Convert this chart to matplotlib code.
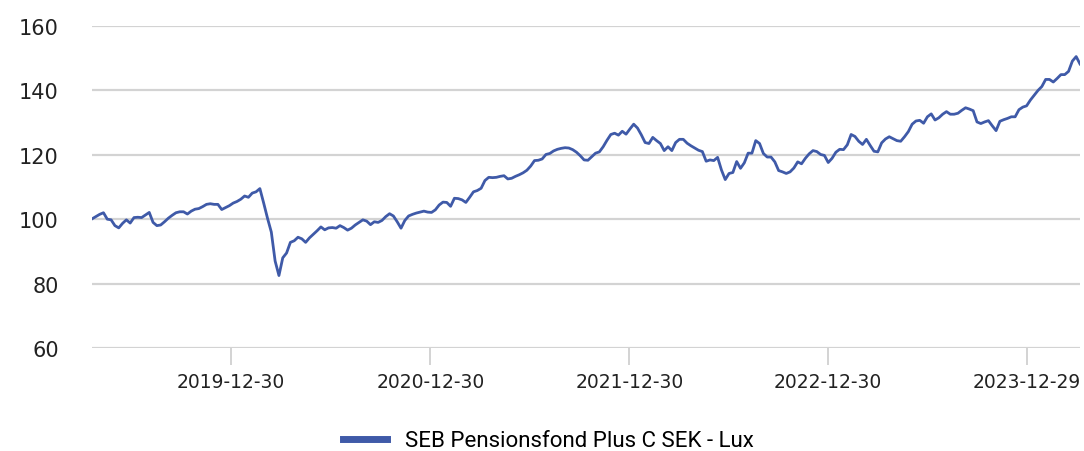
import pandas as pd
import matplotlib
matplotlib.use("Agg")
import matplotlib.pyplot as plt
import matplotlib.dates as mdates

# weekly NAV readings (indexed to 100)
start_date = "2019-04-19"
fund_name = "SEB Pensionsfond Plus C SEK - Lux"
values = [
    100.1, 100.8, 101.5, 102.0, 100.0, 99.8, 98.0, 97.3, 98.7, 99.8,
    98.8, 100.5, 100.6, 100.5, 101.3, 102.1, 99.0, 98.0, 98.2, 99.2,
    100.3, 101.2, 102.0, 102.3, 102.3, 101.6, 102.5, 103.1, 103.3, 103.9,
    104.6, 104.8, 104.6, 104.6, 103.0, 103.6, 104.2, 105.0, 105.5, 106.2,
    107.2, 106.8, 108.1, 108.5, 109.5, 105.0, 100.3, 96.0, 87.0, 82.5,
    88.0, 89.5, 92.8, 93.3, 94.4, 93.9, 92.8, 94.2, 95.3, 96.4,
    97.6, 96.7, 97.3, 97.4, 97.2, 98.0, 97.4, 96.6, 97.2, 98.2,
    99.0, 99.8, 99.4, 98.3, 99.2, 99.0, 99.6, 100.8, 101.7, 101.0,
    99.2, 97.2, 99.6, 101.0, 101.5, 101.9, 102.2, 102.5, 102.2, 102.1,
    102.9, 104.4, 105.3, 105.2, 104.0, 106.5, 106.4, 106.0, 105.2, 106.8,
    108.5, 108.9, 109.6, 112.0, 113.0, 112.9, 113.0, 113.3, 113.5, 112.5,
    112.7, 113.3, 113.8, 114.4, 115.2, 116.5, 118.2, 118.3, 118.7, 120.1,
    120.4, 121.2, 121.7, 122.0, 122.2, 122.1, 121.6, 120.8, 119.7, 118.4,
    118.3, 119.4, 120.5, 120.9, 122.5, 124.5, 126.3, 126.7, 126.1, 127.3,
    126.4, 128.0, 129.5, 128.3, 126.2, 123.8, 123.5, 125.4, 124.4, 123.5,
    121.3, 122.5, 121.3, 123.8, 124.8, 124.8, 123.6, 122.8, 122.1, 121.4,
    121.0, 118.0, 118.4, 118.2, 119.2, 115.3, 112.3, 114.2, 114.5, 117.9,
    115.8, 117.5, 120.5, 120.5, 124.4, 123.5, 120.4, 119.3, 119.3, 117.8,
    115.1, 114.7, 114.2, 114.7, 115.9, 117.8, 117.2, 118.9, 120.3, 121.3,
    121.0, 120.1, 119.8, 117.6, 118.9, 120.8, 121.7, 121.6, 123.1, 126.3,
    125.7, 124.2, 123.2, 124.8, 122.9, 121.1, 120.9, 123.7, 124.9, 125.6,
    125.0, 124.4, 124.2, 125.6, 127.2, 129.5, 130.5, 130.7, 129.8, 131.8,
    132.7, 130.8, 131.5, 132.6, 133.4, 132.6, 132.6, 132.9, 133.8, 134.6,
    134.2, 133.7, 130.2, 129.7, 130.2, 130.6, 129.0, 127.5, 130.4, 130.9,
    131.3, 131.8, 131.8, 134.0, 134.8, 135.2, 137.0, 138.5, 140.0, 141.2,
    143.4, 143.4, 142.6, 143.7, 144.9, 144.9, 145.9, 149.1, 150.5, 148.2,
]
tick_dates = ["2019-12-30", "2020-12-30", "2021-12-30", "2022-12-30", "2023-12-29"]
y_ticks = [60, 80, 100, 120, 140, 160]

dates = pd.date_range(start_date, periods=len(values), freq="7D")

fig = plt.figure(figsize=(10.84, 4.52), dpi=100)
ax = fig.add_axes([0.0849, 0.2279, 0.9114, 0.7124])

ax.plot(dates, values, color="#3f5aa8", lw=2.0, label=fund_name)

ax.set_ylim(60, 160)
ax.set_xlim(dates[0], dates[-1])
ax.set_yticks(y_ticks)
ax.set_xticks(pd.to_datetime(tick_dates))
ax.xaxis.set_major_formatter(mdates.DateFormatter("%Y-%m-%d"))

ax.grid(axis="y", color="#d3d3d3", lw=1.6)
ax.set_axisbelow(True)
for s in ax.spines.values():
    s.set_visible(False)

ax.tick_params(axis="y", length=0, pad=24, labelsize=15, labelcolor="#222222")
ax.tick_params(axis="x", length=12, width=1.4, color="#d3d3d3", pad=5,
               labelsize=13.5, labelcolor="#222222")

fig.legend(loc="lower center", bbox_to_anchor=(0.506, -0.045), frameon=False,
           handlelength=2.0, handletextpad=0.8,
           prop={"family": "Roboto", "size": 16})
for line in fig.legends[0].get_lines():
    line.set_linewidth(5)

fig.savefig("out.png", dpi=100)
